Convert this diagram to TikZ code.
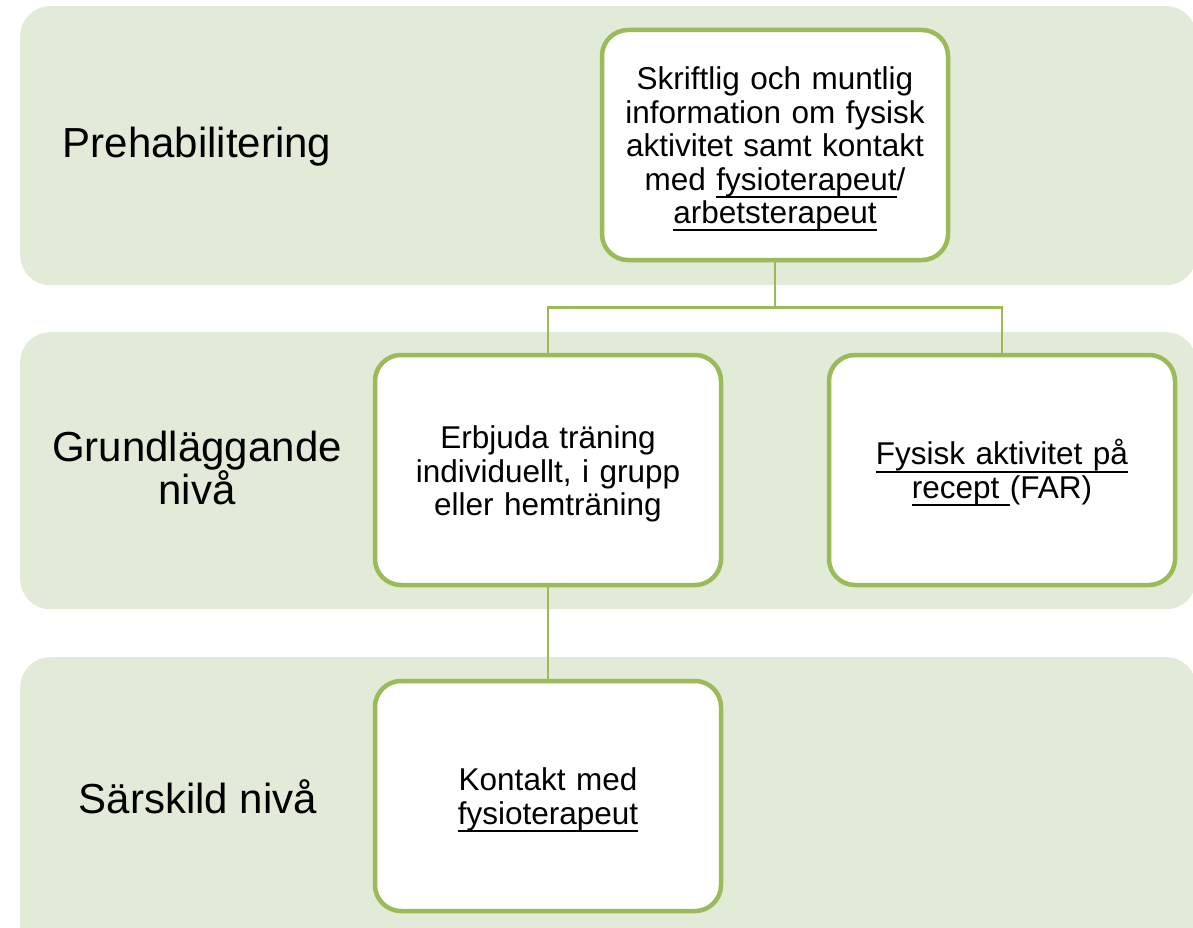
\documentclass[tikz,border=0pt]{standalone}
\usepackage{fontspec}
\usetikzlibrary{calc}
\setmainfont{Liberation Sans}
\definecolor{bandfill}{HTML}{E1EBD8}
\definecolor{leaf}{HTML}{9BBB59}
% underline at a fixed depth below the baseline
\newsavebox\undlbox
\newcommand{\undl}[1]{\leavevmode\sbox\undlbox{#1}\rlap{\rule[-0.25em]{\wd\undlbox}{0.065em}}\usebox\undlbox}
\tikzset{
  band/.style={fill=bandfill, draw=none, rounded corners=30pt, anchor=north west,
    minimum width=1176pt, inner sep=0pt},
  levellabel/.style={font=\fontsize{42}{41}\selectfont, align=center, inner sep=0pt},
  stepbox/.style={draw=leaf, fill=white, line width=4.5pt, rounded corners=26pt,
    minimum width=346pt, minimum height=230pt, text width=320pt, align=center,
    font=\fontsize{31.5}{33.5}\selectfont, inner sep=0pt,
    execute at begin node={\rule{0pt}{31pt}}},
  conn/.style={draw=leaf, line width=2.2pt}
}
\begin{document}
\begin{tikzpicture}[x=1pt,y=-1pt]
\useasboundingbox (0,0) rectangle (1193,928);
\clip (0,0) rectangle (1193,928);

% level bands
\node[band, minimum height=279pt] (b1) at (20,6) {};
\node[band, minimum height=277pt] (b2) at (20,332) {};
\node[band, minimum height=300pt] (b3) at (20,657) {};

% level names
\node[levellabel] (l1) at (197,147) {Prehabilitering};
\node[levellabel] (l2) at (197,468) {Grundläggande\\nivå};
\node[levellabel] (l3) at (198,797) {Särskild nivå};

% activity boxes
\node[stepbox] (info) at (775,145) {Skriftlig och muntlig\\information om fysisk\\aktivitet samt kontakt\\med \undl{fysioterapeut}/\\\undl{arbetsterapeut}};
\node[stepbox] (train) at (548,470) {Erbjuda träning\\individuellt, i grupp\\eller hemträning};
\node[stepbox] (far) at (1002,470) {\undl{Fysisk aktivitet på}\\\undl{recept }(FAR)};
\node[stepbox] (contact) at (548,796) {Kontakt med\\\undl{fysioterapeut}};

% connectors
\coordinate (fork) at ($(info.south)!0.5!(train.north)$);
\draw[conn] (info.south) -- (info.south |- fork);
\draw[conn] (info.south |- fork) -| (train.north);
\draw[conn] (info.south |- fork) -| (far.north);
\draw[conn] (train.south) -- (contact.north);
\end{tikzpicture}
\end{document}
